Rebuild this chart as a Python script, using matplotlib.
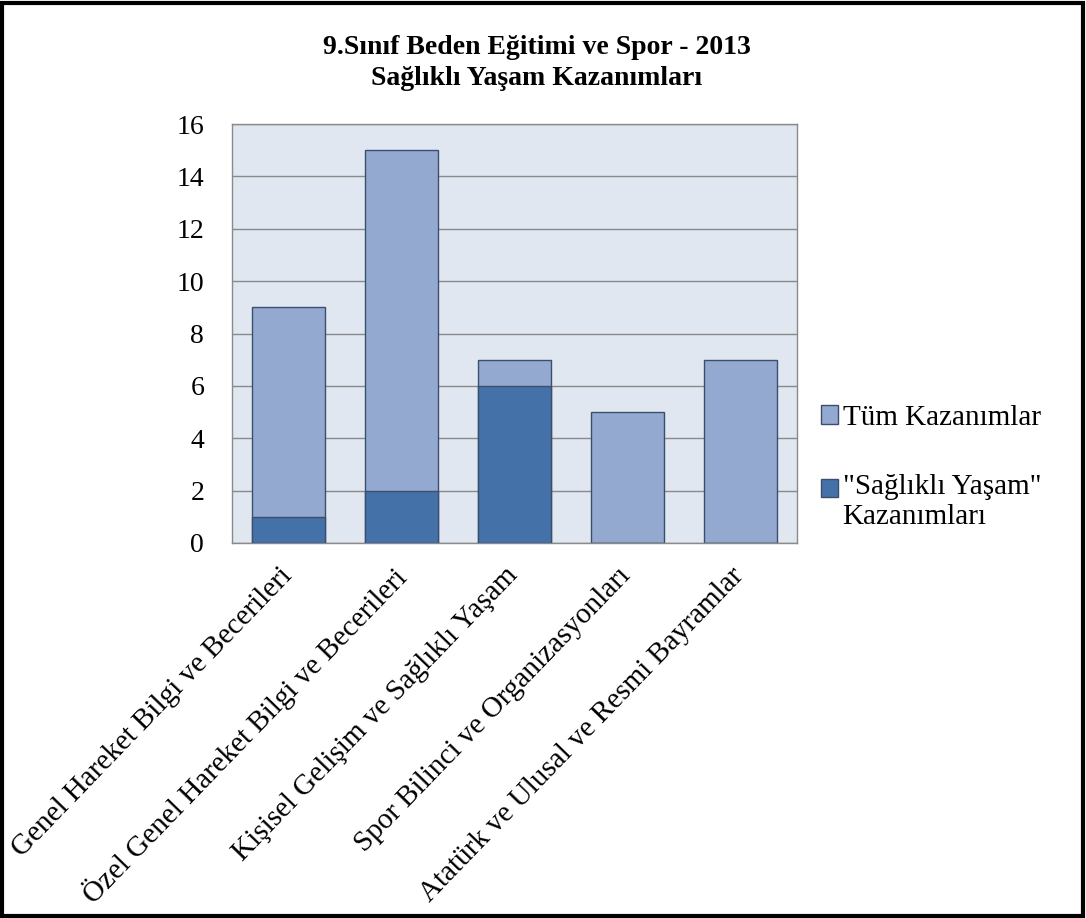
import matplotlib
matplotlib.use("Agg")
import matplotlib.pyplot as plt
from matplotlib.patches import Rectangle, Patch
import matplotlib.transforms as mtransforms
import numpy as np

categories = [
    "Genel Hareket Bilgi ve Becerileri",
    "Özel Genel Hareket Bilgi ve Becerileri",
    "Kişisel Gelişim ve Sağlıklı Yaşam",
    "Spor Bilinci ve Organizasyonları",
    "Atatürk ve Ulusal ve Resmi Bayramlar",
]
tum_kazanimlar = [9, 15, 7, 5, 7]
saglikli_yasam = [1, 2, 6, 0, 0]
series_names = ["Tüm Kazanımlar", "\"Sağlıklı Yaşam\"\nKazanımları"]
title = "9.Sınıf Beden Eğitimi ve Spor - 2013\nSağlıklı Yaşam Kazanımları"

plt.rcParams['font.family'] = ['Liberation Serif', 'DejaVu Serif']

fig = plt.figure(figsize=(10.86, 9.18), dpi=100)
ax = fig.add_axes([232/1086, 1-543/918, (797-232)/1086, (543-124)/918])

light = "#94a9d0"
dark = "#4471a8"
edge = "#3b4e6d"

x = np.arange(len(categories))
w = 0.65
ax.bar(x, tum_kazanimlar, width=w, color=light, edgecolor=edge, linewidth=1.0, zorder=2)
ax.bar(x, saglikli_yasam, width=w, color=dark, edgecolor=edge, linewidth=1.0, zorder=3)

ax.set_facecolor("#e0e7f1")
ax.set_xlim(-0.5, len(categories) - 0.5)
ax.set_ylim(0, 16)
ax.set_yticks(range(0, 17, 2))
ax.yaxis.grid(True, color="#8a8a8a", linewidth=1.0, zorder=1)
ax.set_axisbelow(True)
for s in ax.spines.values():
    s.set_color("#8a8a8a")
    s.set_linewidth(1.0)
ax.tick_params(axis='y', length=0, pad=20, labelsize=20)
ax.tick_params(axis='x', length=0, pad=14, labelsize=21)
ax.set_xticks(x)
ax.set_xticklabels(categories, rotation=46, ha='right', va='top', rotation_mode='anchor')
for lbl in ax.get_xticklabels():
    lbl.set_transform(lbl.get_transform() + mtransforms.ScaledTranslation(-0.1, 0, fig.dpi_scale_trans))

fig.text(0.4945, 0.962, title, ha='center', va='top', fontsize=20, fontweight='bold', linespacing=1.3)

handles = [Patch(facecolor=light, edgecolor=edge), Patch(facecolor=dark, edgecolor=edge)]
leg = fig.legend(handles, series_names, loc='upper left', bbox_to_anchor=(0.745, 0.572),
                 frameon=False, fontsize=21, handlelength=0.6, handleheight=0.6,
                 handletextpad=0.15, labelspacing=1.5, borderaxespad=0)
h2 = leg.legend_handles[1]
h2.set_y(h2.get_y() + 10)

fig.patches.append(Rectangle((0.002, 0.002), 0.995, 0.995, transform=fig.transFigure,
                             fill=False, edgecolor='black', linewidth=3))

fig.savefig("out.png", dpi=100)
